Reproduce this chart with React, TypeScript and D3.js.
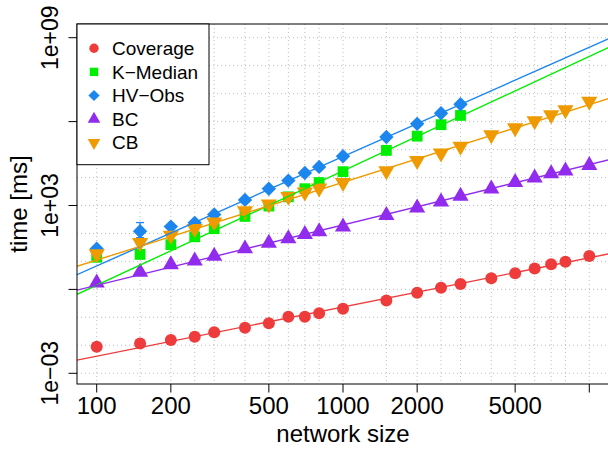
import React from 'react';
import * as d3 from 'd3';

// Network sizes (x) shared by all series
const sizes = [100, 150, 200, 250, 300, 400, 500, 600, 700, 800, 1000, 1500, 2000, 2500, 3000, 4000, 5000, 6000, 7000, 8000, 10000];

// Mean running time in ms per algorithm
const coverage = [0.0089, 0.0117, 0.0155, 0.0204, 0.0295, 0.0427, 0.0617, 0.105, 0.105, 0.140, 0.204, 0.398, 0.759, 1.15, 1.57, 2.51, 3.76, 5.62, 7.94, 9.77, 15.5];
const kMedian = [14.1, 17.8, 39.8, 75.9, 148, 407, 955, 2040, 3980, 6610, 16200, 93300, 302000, 776000, 1660000];
const hvObs = [28.5, 120, 176, 240, 479, 1585, 3980, 7760, 14500, 24000, 57500, 282000, 832000, 2000000, 4170000];
const bc = [1.70, 4.17, 7.76, 10.5, 15.5, 28.5, 45.7, 66.1, 93.3, 117, 174, 447, 832, 1350, 2190, 3980, 6760, 9770, 13800, 17400, 27500];
const cb = [18.4, 46.8, 85.1, 148, 251, 646, 1120, 2090, 3020, 4170, 6610, 17400, 39800, 74100, 129000, 331000, 589000, 1050000, 1740000, 2630000, 5250000];

// Spread of HV-Obs timings (lower / upper), per size
const hvObsErrLow = [28.5, 70.8, 176, 240, 479, 1585, 3980, 7760, 14500, 24000, 57500, 282000, 832000, 2000000, 4170000];
const hvObsErrHigh = [28.5, 245, 176, 240, 479, 1585, 3980, 7760, 14500, 24000, 57500, 282000, 832000, 2000000, 4170000];

const seriesNames = ['Coverage', 'K\u2212Median', 'HV\u2212Obs', 'BC', 'CB'];
const seriesColors = ['#EE3B3B', '#00EE00', '#1C86EE', '#912CEE', '#EE9A00'];
const seriesShapes = ['circle', 'square', 'diamond', 'triangleUp', 'triangleDown'];

// Power-law fits: time = fitAt100 * (size / 100) ^ fitExponent
const fitAt100 = [0.00407, 1.41, 6.92, 1.40, 11.2];
const fitExponent = [1.76, 4.09, 3.91, 2.16, 2.78];

const xTicks = [100, 200, 500, 1000, 2000, 5000, 10000];
const xTickLabels = ['100', '200', '500', '1000', '2000', '5000', ''];
const yTicks = [1e-3, 1, 1e3, 1e6, 1e9];
const yTickLabels = ['1e\u221203', '', '1e+03', '', '1e+09'];
const yGridDecades = [-3, -2, -1, 0, 1, 2, 3, 4, 5, 6, 7, 8, 9];

const W = 608;
const H = 450;
const left = 77;
const right = 609;
const top = 24;
const bottom = 384;
const FONT = '"Liberation Sans", Arial, Helvetica, sans-serif';

const x = d3.scaleLog().domain([Math.pow(10, 1.92), Math.pow(10, 4.08)]).range([left, right]);
const y = d3.scaleLog().domain([Math.pow(10, -3.383), Math.pow(10, 9.49)]).range([bottom, top]);

function Marker({ shape, cx, cy, color, s = 1 }: { shape: string; cx: number; cy: number; color: string; s?: number }) {
  if (shape === 'circle') return <circle cx={cx} cy={cy} r={6 * s} fill={color} />;
  if (shape === 'square') {
    const h = 5.4 * s;
    return <rect x={cx - h} y={cy - h} width={2 * h} height={2 * h} fill={color} />;
  }
  if (shape === 'diamond') {
    const d = 7.2 * s;
    return <polygon points={`${cx},${cy - d} ${cx + d},${cy} ${cx},${cy + d} ${cx - d},${cy}`} fill={color} />;
  }
  const xc = 6 * s;
  const r = 1.555 * xc;
  const yc = 0.7776 * xc;
  const hw = 1.3468 * xc;
  if (shape === 'triangleUp') {
    return <polygon points={`${cx},${cy - r} ${cx + hw},${cy + yc} ${cx - hw},${cy + yc}`} fill={color} />;
  }
  return <polygon points={`${cx},${cy + r} ${cx + hw},${cy - yc} ${cx - hw},${cy - yc}`} fill={color} />;
}

export default function App() {
  const allSeries = [coverage, kMedian, hvObs, bc, cb];
  const [xMin, xMax] = x.domain();
  const line = d3.line<[number, number]>().x((d) => x(d[0])).y((d) => y(d[1]));

  return (
    <svg width={W} height={H} style={{ position: 'absolute', left: 0, top: 0, background: '#fff' }} fontFamily={FONT}>
      <defs>
        <clipPath id="plotArea">
          <rect x={left} y={top} width={right - left} height={bottom - top} />
        </clipPath>
      </defs>
      <rect x={0} y={0} width={W} height={H} fill="#fff" />

      {/* dotted grid */}
      <g stroke="#BEBEBE" strokeWidth={1} strokeDasharray="1,3">
        {sizes.map((v) => (
          <line key={'gx' + v} x1={x(v)} x2={x(v)} y1={top} y2={bottom} />
        ))}
        {yGridDecades.map((p) => (
          <line key={'gy' + p} x1={left} x2={right} y1={y(Math.pow(10, p))} y2={y(Math.pow(10, p))} />
        ))}
      </g>

      <g clipPath="url(#plotArea)">
        {/* spread bars */}
        {hvObs.map((_, i) =>
          hvObsErrHigh[i] > hvObsErrLow[i] ? (
            <g key={'eb' + i} stroke={seriesColors[2]} strokeWidth={1.3}>
              <line x1={x(sizes[i])} x2={x(sizes[i])} y1={y(hvObsErrLow[i])} y2={y(hvObsErrHigh[i])} />
              <line x1={x(sizes[i]) - 4} x2={x(sizes[i]) + 4} y1={y(hvObsErrHigh[i])} y2={y(hvObsErrHigh[i])} />
              <line x1={x(sizes[i]) - 4} x2={x(sizes[i]) + 4} y1={y(hvObsErrLow[i])} y2={y(hvObsErrLow[i])} />
            </g>
          ) : null
        )}

        {/* points */}
        {allSeries.map((vals, si) => (
          <g key={'s' + si}>
            {vals.map((v, i) => (
              <Marker key={i} shape={seriesShapes[si]} cx={x(sizes[i])} cy={y(v)} color={seriesColors[si]} />
            ))}
          </g>
        ))}

        {/* power-law fits */}
        {fitAt100.map((a, si) => {
          const f = (s: number) => a * Math.pow(s / 100, fitExponent[si]);
          const pts: [number, number][] = [
            [xMin, f(xMin)],
            [xMax, f(xMax)],
          ];
          return <path key={'f' + si} d={line(pts) || ''} fill="none" stroke={seriesColors[si]} strokeWidth={1.4} />;
        })}
      </g>

      {/* frame */}
      <rect x={left} y={top} width={right - left} height={bottom - top} fill="none" stroke="#000" strokeWidth={1} />

      {/* x axis */}
      <g>
        {xTicks.map((v, i) => (
          <g key={'xt' + v}>
            <line x1={x(v)} x2={x(v)} y1={bottom} y2={bottom + 8.5} stroke="#000" />
            <text x={x(v)} y={414} textAnchor="middle" fontSize={24} fill="#000">
              {xTickLabels[i]}
            </text>
          </g>
        ))}
        <text x={(left + right) / 2} y={442} textAnchor="middle" fontSize={24} fill="#000">
          network size
        </text>
      </g>

      {/* y axis */}
      <g>
        {yTicks.map((v, i) => (
          <g key={'yt' + i}>
            <line x1={left - 8.5} x2={left} y1={y(v)} y2={y(v)} stroke="#000" />
            <text
              transform={`translate(58,${y(v)}) rotate(-90)`}
              textAnchor="middle"
              fontSize={23}
              fill="#000"
            >
              {yTickLabels[i]}
            </text>
          </g>
        ))}
        <text transform={`translate(27,${(top + bottom) / 2}) rotate(-90)`} textAnchor="middle" fontSize={24} fill="#000">
          time [ms]
        </text>
      </g>

      {/* legend */}
      <g>
        <rect x={left} y={top} width={132} height={140.7} fill="#fff" stroke="#000" strokeWidth={1} />
        {seriesNames.map((name, i) => {
          const cy = 48.3 + i * 23.6;
          return (
            <g key={'lg' + i}>
              <Marker shape={seriesShapes[i]} cx={94} cy={cy} color={seriesColors[i]} s={0.78} />
              <text x={112} y={cy + 6.7} fontSize={19} fill="#000">
                {name}
              </text>
            </g>
          );
        })}
      </g>
    </svg>
  );
}
